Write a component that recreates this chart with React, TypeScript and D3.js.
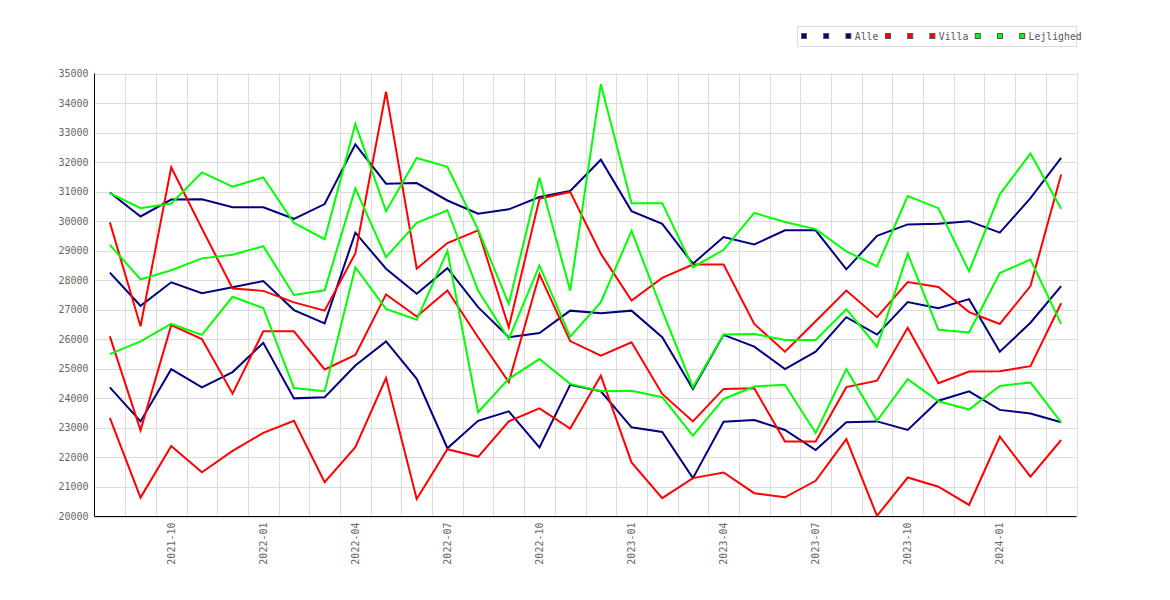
import { format, line, scaleBand, scaleLinear } from 'd3'

const months = [
  '2021-08', '2021-09', '2021-10', '2021-11', '2021-12', '2022-01', '2022-02', '2022-03',
  '2022-04', '2022-05', '2022-06', '2022-07', '2022-08', '2022-09', '2022-10', '2022-11',
  '2022-12', '2023-01', '2023-02', '2023-03', '2023-04', '2023-05', '2023-06', '2023-07',
  '2023-08', '2023-09', '2023-10', '2023-11', '2023-12', '2024-01', '2024-02', '2024-03',
]

const tickMonths = [
  '2021-10', '2022-01', '2022-04', '2022-07', '2022-10',
  '2023-01', '2023-04', '2023-07', '2023-10', '2024-01',
]

const alleHigh = [
  30970, 30160, 30730, 30740, 30470, 30470, 30080, 30580, 32600, 31270, 31290, 30700, 30250, 30400, 30820, 31020,
  32080, 30340, 29910, 28560, 29460, 29210, 29690, 29690, 28370, 29500, 29890, 29910, 30000, 29610, 30780, 32140,
]
const alleMid = [
  28260, 27135, 27930, 27560, 27760, 27970, 26990, 26540, 29610, 28390, 27540, 28410, 27090, 26070, 26210, 26970,
  26880, 26970, 26070, 24320, 26150, 25750, 24990, 25580, 26750, 26160, 27260, 27050, 27360, 25580, 26560, 27800,
]
const alleLow = [
  24370, 23220, 24990, 24370, 24890, 25880, 24000, 24040, 25110, 25930, 24660, 22310, 23240, 23560, 22340, 24460,
  24240, 23020, 22860, 21300, 23210, 23270, 22930, 22250, 23190, 23220, 22930, 23920, 24240, 23610, 23490, 23190,
]

const villaHigh = [
  29960, 26440, 31820, 29750, 27720, 27640, 27250, 26970, 28910, 34380, 28390, 29260, 29690, 26410, 30760, 30990,
  28900, 27310, 28080, 28530, 28530, 26520, 25580, 26610, 27650, 26750, 27940, 27770, 26920, 26520, 27800, 31580,
]
const villaMid = [
  26100, 22920, 26480, 26010, 24160, 26270, 26270, 24980, 25470, 27520, 26770, 27650, 26070, 24550, 28200, 25940,
  25450, 25900, 24150, 23220, 24320, 24340, 22540, 22540, 24380, 24600, 26390, 24510, 24910, 24920, 25090, 27220,
]
const villaLow = [
  23340, 20640, 22390, 21500, 22220, 22830, 23240, 21160, 22350, 24690, 20590, 22280, 22020, 23220, 23660, 22980,
  24770, 21830, 20620, 21300, 21490, 20790, 20650, 21210, 22620, 20020, 21320, 21010, 20390, 22700, 21350, 22590,
]

const lejlighedHigh = [
  30950, 30440, 30600, 31650, 31170, 31480, 29940, 29390, 33290, 30340, 32140, 31840, 29710, 27200, 31470, 27650,
  34640, 30610, 30610, 28440, 29030, 30280, 29970, 29730, 28980, 28470, 30850, 30440, 28300, 30910, 32290, 30420,
]
const lejlighedMid = [
  29200, 28030, 28340, 28740, 28860, 29150, 27500, 27660, 31110, 28780, 29940, 30370, 27650, 26010, 28500, 26090,
  27260, 29670, 26970, 24380, 26160, 26180, 25980, 25980, 27020, 25750, 28900, 26320, 26230, 28240, 28700, 26520,
]
const lejlighedLow = [
  25500, 25930, 26520, 26150, 27440, 27060, 24350, 24240, 28440, 27030, 26660, 28990, 23530, 24660, 25330, 24490,
  24240, 24260, 24040, 22740, 23980, 24400, 24460, 22830, 24990, 23240, 24650, 23900, 23620, 24420, 24540, 23190,
]

const seriesLabels = ['', '', 'Alle', '', '', 'Villa', '', '', 'Lejlighed']
const seriesValues = [
  alleHigh, alleMid, alleLow,
  villaHigh, villaMid, villaLow,
  lejlighedHigh, lejlighedMid, lejlighedLow,
]
const seriesColors = [
  '#000080', '#000080', '#000080',
  '#ff0000', '#ff0000', '#ff0000',
  '#00ff00', '#00ff00', '#00ff00',
]

const width = 1170
const height = 600
const plot = { left: 94.5, right: 1076.5, top: 73.5, bottom: 516.5 }
const font = '"DejaVu Sans Mono", monospace'

function App() {
  const xScale = scaleBand<string>()
    .domain(months)
    .range([plot.left, plot.right])

  const yScale = scaleLinear()
    .domain([20000, 35000])
    .range([plot.bottom, plot.top])

  const center = (month: string) => (xScale(month) ?? 0) + xScale.bandwidth() / 2
  const yTicks = yScale.ticks(15)
  const tickFormat = format('d')

  const seriesLine = line<number>()
    .x((_, index) => center(months[index]))
    .y((value) => yScale(value))

  // legend entries sit one after another, an empty label still takes one char
  let legendX = 801
  const legendItems = seriesLabels.map((label, index) => {
    const x = legendX
    legendX += 16.4 + Math.max(1, label.length) * 5.8
    return { label, x, color: seriesColors[index] }
  })

  return (
    <svg
      width={width}
      height={height}
      style={{ position: 'absolute', left: 0, top: 0, background: '#fff' }}
      fontFamily={font}
      fontSize={10}
    >
      <rect x={0} y={0} width={width} height={height} fill="#fff" />

      {yTicks.map((tick) => (
        <line
          key={`y-grid-${tick}`}
          x1={plot.left}
          x2={plot.right}
          y1={Math.round(yScale(tick)) + 0.5}
          y2={Math.round(yScale(tick)) + 0.5}
          stroke="#dcdcdc"
        />
      ))}

      {months.map((month) => {
        const x = Math.round((xScale(month) ?? 0) + xScale.bandwidth()) + 0.5
        return (
          <line
            key={`x-grid-${month}`}
            x1={x}
            x2={x}
            y1={plot.top}
            y2={plot.bottom}
            stroke="#dcdcdc"
          />
        )
      })}

      {yTicks.map((tick) => (
        <text
          key={`y-label-${tick}`}
          x={plot.left - 6}
          y={yScale(tick)}
          dy="0.35em"
          textAnchor="end"
          fill="#666"
        >
          {tickFormat(tick)}
        </text>
      ))}

      {tickMonths.map((month) => (
        <text
          key={`x-label-${month}`}
          transform={`translate(${center(month) + 3.5}, ${plot.bottom + 6}) rotate(-90)`}
          textAnchor="end"
          fill="#666"
        >
          {month}
        </text>
      ))}

      {seriesValues.map((values, index) => (
        <path
          key={`series-${index}`}
          d={seriesLine(values) ?? ''}
          fill="none"
          stroke={seriesColors[index]}
          strokeWidth={2}
          strokeLinejoin="miter"
        />
      ))}

      <line x1={plot.left} x2={plot.left} y1={plot.top} y2={plot.bottom} stroke="#000" />
      <line x1={plot.left} x2={plot.right} y1={plot.bottom} y2={plot.bottom} stroke="#000" />

      <rect x={797.5} y={26.5} width={279} height={20} fill="#fff" stroke="#dcdcdc" />
      {legendItems.map((item, index) => (
        <g key={`legend-${index}`}>
          <rect x={item.x + 0.5} y={33.5} width={5} height={5} fill={item.color} stroke="#555" />
          <text x={item.x + 9.4} y={40} fill="#555" fontSize={9.8}>
            {item.label}
          </text>
        </g>
      ))}
    </svg>
  )
}

export default App
